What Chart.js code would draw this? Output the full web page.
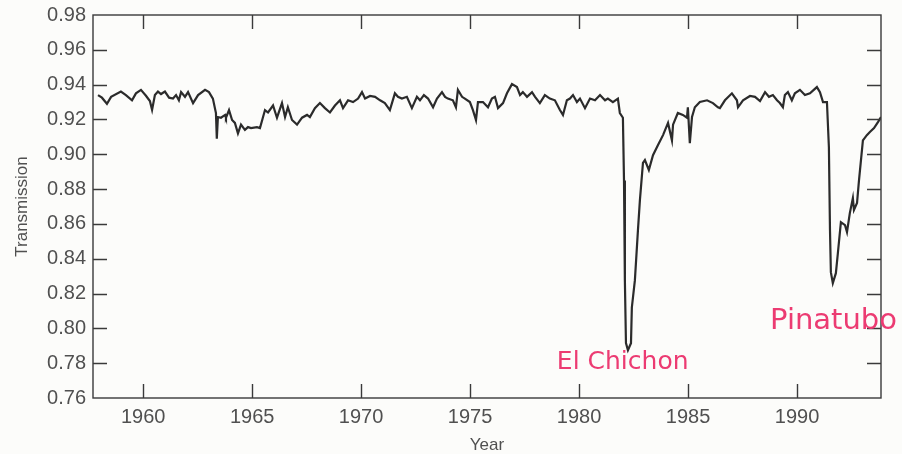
<!DOCTYPE html>
<html>
<head>
<meta charset="utf-8">
<script src="https://cdn.jsdelivr.net/npm/chart.js@4.4.1/dist/chart.umd.min.js"></script>
<style>
  html, body { margin: 0; padding: 0; background: #fcfcfa; }
  #wrap { width: 902px; height: 454px; }
</style>
</head>
<body>
<div id="wrap"><canvas id="chartTransmission" width="902" height="454"></canvas></div>
<script>
// Mauna Loa atmospheric transmission
const years = [
  1957.93, 1958.11, 1958.34, 1958.53, 1958.98, 1959.21, 1959.49, 1959.67, 1959.90, 1960.13,
  1960.31, 1960.41, 1960.54, 1960.68, 1960.82, 1961.00, 1961.19, 1961.37, 1961.51, 1961.64,
  1961.74, 1961.92, 1962.06, 1962.29, 1962.52, 1962.84, 1963.02, 1963.20, 1963.34, 1963.38,
  1963.43, 1963.57, 1963.76, 1963.80, 1963.94, 1964.08, 1964.21, 1964.35, 1964.49, 1964.67,
  1964.81, 1964.95, 1965.22, 1965.36, 1965.59, 1965.73, 1965.96, 1966.14, 1966.37, 1966.51,
  1966.64, 1966.83, 1967.06, 1967.29, 1967.52, 1967.65, 1967.88, 1968.11, 1968.34, 1968.57,
  1968.80, 1969.03, 1969.17, 1969.40, 1969.63, 1969.86, 1970.04, 1970.18, 1970.41, 1970.64,
  1970.87, 1971.09, 1971.32, 1971.55, 1971.69, 1971.87, 1972.10, 1972.33, 1972.56, 1972.70,
  1972.88, 1973.07, 1973.30, 1973.48, 1973.71, 1973.85, 1973.98, 1974.21, 1974.35, 1974.44,
  1974.63, 1974.76, 1974.99, 1975.13, 1975.27, 1975.36, 1975.59, 1975.82, 1976.00, 1976.14,
  1976.28, 1976.51, 1976.69, 1976.92, 1977.15, 1977.29, 1977.42, 1977.61, 1977.84, 1977.98,
  1978.20, 1978.43, 1978.66, 1978.89, 1979.12, 1979.26, 1979.44, 1979.58, 1979.72, 1979.90,
  1980.04, 1980.27, 1980.50, 1980.73, 1980.96, 1981.19, 1981.32, 1981.55, 1981.78, 1981.87,
  1982.01, 1982.06, 1982.10, 1982.15, 1982.24, 1982.38, 1982.42, 1982.56, 1982.70, 1982.79,
  1982.93, 1983.02, 1983.20, 1983.39, 1983.62, 1983.85, 1984.08, 1984.26, 1984.31, 1984.53,
  1984.76, 1984.95, 1984.99, 1985.08, 1985.18, 1985.31, 1985.54, 1985.87, 1986.14, 1986.37,
  1986.46, 1986.69, 1987.01, 1987.24, 1987.29, 1987.52, 1987.84, 1988.07, 1988.30, 1988.53,
  1988.71, 1988.89, 1989.08, 1989.21, 1989.35, 1989.44, 1989.58, 1989.76, 1989.90, 1990.13,
  1990.36, 1990.59, 1990.91, 1991.05, 1991.19, 1991.37, 1991.46, 1991.51, 1991.55, 1991.64,
  1991.78, 1991.87, 1992.01, 1992.20, 1992.29, 1992.42, 1992.56, 1992.61, 1992.75, 1992.84,
  1993.02, 1993.20, 1993.34, 1993.53, 1993.71, 1993.85
];
const transmission = [
  0.9340, 0.9325, 0.9290, 0.9330, 0.9360, 0.9340, 0.9310, 0.9350, 0.9370, 0.9336,
  0.9306, 0.9255, 0.9340, 0.9360, 0.9346, 0.9360, 0.9325, 0.9320, 0.9340, 0.9310,
  0.9357, 0.9330, 0.9357, 0.9294, 0.9340, 0.9370, 0.9357, 0.9320, 0.9237, 0.9090,
  0.9214, 0.9210, 0.9226, 0.9210, 0.9254, 0.9197, 0.9180, 0.9120, 0.9170, 0.9140,
  0.9156, 0.9150, 0.9156, 0.9150, 0.9254, 0.9240, 0.9280, 0.9210, 0.9294, 0.9214,
  0.9270, 0.9197, 0.9170, 0.9210, 0.9226, 0.9214, 0.9265, 0.9294, 0.9265, 0.9240,
  0.9280, 0.9310, 0.9265, 0.9310, 0.9300, 0.9320, 0.9357, 0.9320, 0.9335, 0.9330,
  0.9310, 0.9294, 0.9254, 0.9350, 0.9330, 0.9320, 0.9330, 0.9265, 0.9330, 0.9310,
  0.9340, 0.9320, 0.9270, 0.9320, 0.9357, 0.9330, 0.9320, 0.9310, 0.9270, 0.9370,
  0.9330, 0.9320, 0.9300, 0.9254, 0.9197, 0.9300, 0.9300, 0.9270, 0.9320, 0.9330,
  0.9265, 0.9294, 0.9350, 0.9403, 0.9386, 0.9340, 0.9357, 0.9330, 0.9357, 0.9330,
  0.9294, 0.9340, 0.9320, 0.9310, 0.9254, 0.9226, 0.9310, 0.9320, 0.9340, 0.9300,
  0.9320, 0.9265, 0.9320, 0.9310, 0.9340, 0.9310, 0.9320, 0.9300, 0.9320, 0.9237,
  0.9210, 0.8850, 0.8277, 0.7915, 0.7875, 0.7915, 0.8120, 0.8277, 0.8564, 0.8737,
  0.8950, 0.8967, 0.8910, 0.8995, 0.9053, 0.9110, 0.9180, 0.9080, 0.9170, 0.9237,
  0.9226, 0.9210, 0.9270, 0.9064, 0.9214, 0.9270, 0.9300, 0.9310, 0.9294, 0.9270,
  0.9265, 0.9310, 0.9350, 0.9310, 0.9270, 0.9310, 0.9335, 0.9330, 0.9306, 0.9357,
  0.9330, 0.9340, 0.9310, 0.9294, 0.9270, 0.9340, 0.9357, 0.9310, 0.9350, 0.9370,
  0.9340, 0.9350, 0.9386, 0.9357, 0.9300, 0.9300, 0.9040, 0.8564, 0.8323, 0.8260,
  0.8317, 0.8430, 0.8610, 0.8593, 0.8553, 0.8662, 0.8748, 0.8680, 0.8720, 0.8850,
  0.9080, 0.9110, 0.9128, 0.9150, 0.9185, 0.9214
];
const yearTicks = [1960, 1965, 1970, 1975, 1980, 1985, 1990];
const transmissionTicks = [0.76, 0.78, 0.80, 0.82, 0.84, 0.86, 0.88, 0.90, 0.92, 0.94, 0.96, 0.98];

// handwritten notes: [text, year, value at baseline, font size]
const notes = [
  ['El Chichon', 1978.98, 0.7765, 25],
  ['Pinatubo', 1988.76, 0.7995, 29]
];

const INK = '#2b2b2b';
const LABEL = '#505050';
const NOTE_COLOR = '#ec3b72';
const FONT = '"Liberation Sans", Arial, sans-serif';

// frame on all four sides with ticks pointing inward
const framePlugin = {
  id: 'frame',
  afterDatasetsDraw(chart) {
    const { ctx, chartArea: a, scales } = chart;
    const len = 14;
    ctx.save();
    ctx.strokeStyle = '#3a3a3a';
    ctx.lineWidth = 1.4;
    ctx.strokeRect(a.left, a.top, a.right - a.left, a.bottom - a.top);
    ctx.beginPath();
    yearTicks.forEach(v => {
      const x = Math.round(scales.x.getPixelForValue(v)) + 0.5;
      ctx.moveTo(x, a.bottom); ctx.lineTo(x, a.bottom - len);
      ctx.moveTo(x, a.top); ctx.lineTo(x, a.top + len);
    });
    transmissionTicks.slice(1, -1).forEach(v => {
      const y = Math.round(scales.y.getPixelForValue(v)) + 0.5;
      ctx.moveTo(a.left, y); ctx.lineTo(a.left + len, y);
      ctx.moveTo(a.right, y); ctx.lineTo(a.right - len, y);
    });
    ctx.stroke();

    ctx.fillStyle = NOTE_COLOR;
    ctx.textBaseline = 'alphabetic';
    notes.forEach(([text, x, y, size]) => {
      ctx.font = size + 'px "DejaVu Sans", sans-serif';
      ctx.fillText(text, scales.x.getPixelForValue(x), scales.y.getPixelForValue(y));
    });
    ctx.restore();
  }
};

const points = years.map((yr, i) => ({ x: yr, y: transmission[i] }));

new Chart(document.getElementById('chartTransmission'), {
  type: 'line',
  data: {
    datasets: [{
      data: points,
      borderColor: INK,
      borderWidth: 2.2,
      pointRadius: 0,
      tension: 0,
      fill: false
    }]
  },
  options: {
    responsive: false,
    animation: false,
    layout: { padding: { top: 15, right: 21, left: 0, bottom: 0 } },
    plugins: {
      legend: { display: false },
      tooltip: { enabled: false }
    },
    scales: {
      x: {
        type: 'linear',
        min: 1957.7,
        max: 1993.85,
        afterFit: s => { s.height = 56; s.paddingLeft = 0; s.paddingRight = 0; },
        afterBuildTicks: s => { s.ticks = yearTicks.map(v => ({ value: v })); },
        grid: { display: false, drawTicks: false },
        border: { display: false },
        ticks: {
          padding: 7,
          color: LABEL,
          font: { family: FONT, size: 20 },
          callback: v => String(v)
        },
        title: {
          display: true,
          text: 'Year',
          color: LABEL,
          padding: { top: 0, bottom: 0 },
          font: { family: FONT, size: 17, lineHeight: 1 }
        }
      },
      y: {
        min: 0.76,
        max: 0.98,
        afterFit: s => { s.width = 93; s.paddingTop = 0; s.paddingBottom = 0; },
        afterBuildTicks: s => { s.ticks = transmissionTicks.map(v => ({ value: v })); },
        grid: { display: false, drawTicks: false },
        border: { display: false },
        ticks: {
          padding: 7,
          color: LABEL,
          font: { family: FONT, size: 20 },
          callback: v => v.toFixed(2)
        },
        title: {
          display: true,
          text: 'Transmission',
          color: LABEL,
          padding: { top: 12, bottom: 0 },
          font: { family: FONT, size: 17 }
        }
      }
    }
  },
  plugins: [framePlugin]
});
</script>
</body>
</html>
